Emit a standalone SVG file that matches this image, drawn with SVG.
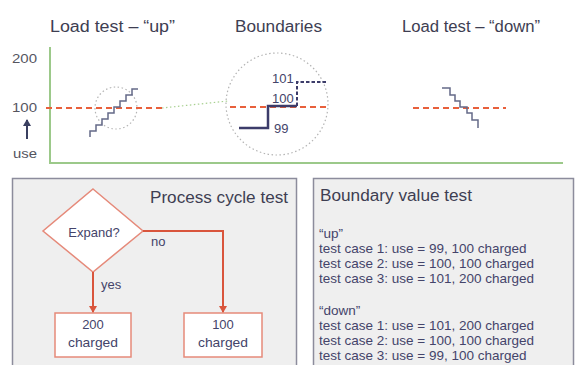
<svg xmlns="http://www.w3.org/2000/svg" width="585" height="365" viewBox="0 0 585 365">
<style>
text{font-family:"Liberation Sans",Arial,sans-serif;fill:#3e3e52}
.ttl{font-size:16px}
.ax{font-size:13px;fill:#55555f}
.body{font-size:13.5px;fill:#44446a}
.lbl{font-size:13px;fill:#44446a}
.red{stroke:#e8603c;stroke-width:2;stroke-dasharray:6 4;fill:none}
.green{stroke:#9cc98a;stroke-width:2;fill:none}
.dots{stroke:#b4b4b4;stroke-width:1.2;stroke-dasharray:1.5 2.5;fill:none}
.panel{fill:#efefef;stroke:#8c8c9c;stroke-width:1.5}
.box{fill:#ffffff;stroke:#e68a7a;stroke-width:1.5}
.conn{stroke:#d9553c;stroke-width:2;fill:none}
</style>
<defs>
<marker id="ah" markerWidth="8" markerHeight="8" refX="6" refY="4" orient="auto" markerUnits="userSpaceOnUse">
<path d="M0,0 L7,4 L0,8 Z" fill="#d9553c"/>
</marker>
<marker id="up" markerWidth="8" markerHeight="8" refX="6" refY="4" orient="auto" markerUnits="userSpaceOnUse">
<path d="M0,0 L7,4 L0,8 Z" fill="#3a3f60"/>
</marker>
</defs>
<rect width="585" height="365" fill="#ffffff"/>

<g id="chart">
<text class="ttl" x="50" y="32" textLength="125" lengthAdjust="spacingAndGlyphs">Load test – “up”</text>
<text class="ttl" x="235" y="32" textLength="87" lengthAdjust="spacingAndGlyphs">Boundaries</text>
<text class="ttl" x="402" y="32" textLength="138" lengthAdjust="spacingAndGlyphs">Load test – “down”</text>
<path class="green" d="M50,47 V163 H563"/>
<text class="ax" x="12" y="63" textLength="25" lengthAdjust="spacingAndGlyphs">200</text>
<text class="ax" x="12" y="112" textLength="25" lengthAdjust="spacingAndGlyphs">100</text>
<line x1="27" y1="139" x2="27" y2="120" stroke="#3a3f60" stroke-width="2" marker-end="url(#up)"/>
<text class="ax" x="13" y="158" textLength="24" lengthAdjust="spacingAndGlyphs">use</text>

<circle class="dots" cx="116" cy="108" r="21"/>
<path class="red" d="M46,108 H162"/>
<path d="M90,137 V131 H96 V125 H102 V119 H108 V113 H114 V107 H120 V101 H126 V95 H132 V89 H138" stroke="#646a88" stroke-width="1.5" fill="none"/>
<path d="M162,108 L228,101" stroke="#a8d090" stroke-width="1.2" stroke-dasharray="1.5 2.5" fill="none"/>

<circle class="dots" cx="277" cy="104" r="51"/>
<path class="red" d="M230,107 H326"/>
<path d="M239,128 H268 V106 H297" stroke="#3c3c6a" stroke-width="2.5" fill="none"/>
<path d="M297,106 V82 H326" stroke="#3c3c6a" stroke-width="2" stroke-dasharray="3.5 2" fill="none"/>
<text class="lbl" x="272" y="83" font-size="10">101</text>
<text class="lbl" x="272" y="103" font-size="10">100</text>
<text class="lbl" x="274" y="133" font-size="10">99</text>

<path class="red" d="M413,108 H506"/>
<path d="M442,88 H450 V95 H455 V101 H460 V107 H467 V113 H472 V120 H478 V128" stroke="#646a88" stroke-width="1.5" fill="none"/>
</g>

<g id="panel-process">
<rect class="panel" x="12.5" y="178.5" width="284" height="200"/>
<text class="ttl" x="150" y="203" textLength="138" lengthAdjust="spacingAndGlyphs">Process cycle test</text>
</g>

<g id="expand">
<path d="M93,189 L143,231 L93,272 L43,231 Z" fill="#ffffff" stroke="#e68a7a" stroke-width="1.5"/>
<text class="lbl" x="94" y="237" text-anchor="middle">Expand?</text>
</g>

<g id="box200">
<rect class="box" x="55" y="313" width="76" height="44"/>
<text class="lbl" x="93" y="329" text-anchor="middle">200</text>
<text class="lbl" x="93" y="347" text-anchor="middle" textLength="50" lengthAdjust="spacingAndGlyphs">charged</text>
</g>

<g id="box100">
<rect class="box" x="184" y="313" width="78" height="44"/>
<text class="lbl" x="223" y="329" text-anchor="middle">100</text>
<text class="lbl" x="223" y="347" text-anchor="middle" textLength="50" lengthAdjust="spacingAndGlyphs">charged</text>
</g>

<g id="connectors">
<path class="conn" d="M93,272 V312" marker-end="url(#ah)"/>
<path class="conn" d="M143,231 H223 V312" marker-end="url(#ah)"/>
<text class="lbl" x="101" y="289" font-size="12">yes</text>
<text class="lbl" x="151" y="246" font-size="12">no</text>
</g>

<g id="panel-boundary">
<rect class="panel" x="313.5" y="178.5" width="260" height="200"/>
<text class="ttl" x="320" y="201" textLength="152" lengthAdjust="spacingAndGlyphs">Boundary value test</text>
<text class="body" x="319" y="238">“up”</text>
<text class="body" x="319" y="253">test case 1: use = 99, 100 charged</text>
<text class="body" x="319" y="268">test case 2: use = 100, 100 charged</text>
<text class="body" x="319" y="283">test case 3: use = 101, 200 charged</text>
<text class="body" x="319" y="315">“down”</text>
<text class="body" x="319" y="330">test case 1: use = 101, 200 charged</text>
<text class="body" x="319" y="345">test case 2: use = 100, 100 charged</text>
<text class="body" x="319" y="360">test case 3: use = 99, 100 charged</text>
</g>
</svg>
